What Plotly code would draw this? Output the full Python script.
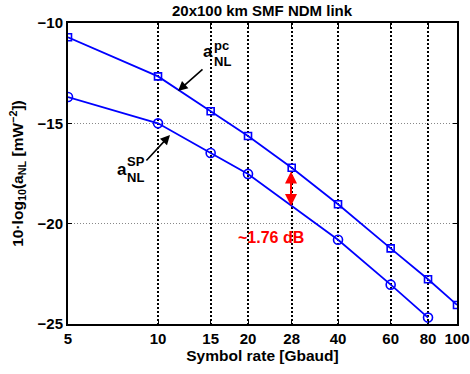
import numpy as np
import plotly.graph_objects as go

# Data
x_pc = [5, 10, 15, 20, 28, 40, 60, 80, 100]
y_pc = [-10.71, -12.66, -14.40, -15.63, -17.21, -19.03, -21.23, -22.77, -24.05]
x_sp = [5, 10, 15, 20, 40, 60, 80]
y_sp = [-13.69, -15.00, -16.48, -17.52, -20.80, -23.04, -24.68]
x_ticks = [5, 10, 15, 20, 28, 40, 60, 80, 100]
y_ticks = [-25, -20, -15, -10]

W, H = 470, 374
L, R, T, B = 68, 13, 23, 50
PW, PH = W - L - R, H - T - B

def px(xp):
    return (xp - L) / PW

def py(yp):
    return (H - B - yp) / PH

FONT = "Liberation Sans, Arial, sans-serif"
BLUE = "#0000ff"

fig = go.Figure()
fig.add_trace(go.Scatter(x=x_pc, y=y_pc, mode="lines+markers",
                         line=dict(color=BLUE, width=1.8),
                         marker=dict(symbol="square-open", size=7, color=BLUE, line=dict(width=1.6, color=BLUE)),
                         showlegend=False))
fig.add_trace(go.Scatter(x=x_sp, y=y_sp, mode="lines+markers",
                         line=dict(color=BLUE, width=1.8),
                         marker=dict(symbol="circle-open", size=9, color=BLUE, line=dict(width=1.6, color=BLUE)),
                         showlegend=False))

ann = []
def txt(x, y, s, size, color="black"):
    ann.append(dict(xref="paper", yref="paper", x=px(x), y=py(y), text="<b>" + s + "</b>", showarrow=False,
                    font=dict(family=FONT, size=size, color=color),
                    xanchor="center", yanchor="middle"))

# title
txt((L + W - R) / 2, 10, "20x100 km SMF NDM link", 15)
# a_NL^pc label
txt(208, 52, "a", 17)
txt(221, 46, "pc", 13)
txt(222, 62, "NL", 13)
# a_NL^SP label
txt(122, 169, "a", 17)
txt(136, 161, "SP", 13)
txt(135, 178, "NL", 13)
# dB label
txt(271, 237, "~1.76 dB", 16, "#ff0000")

# black arrows
ann.append(dict(xref="paper", yref="paper", x=px(178), y=py(91), ax=26, ay=-23,
                text="", showarrow=True, arrowhead=2, arrowsize=1.2, arrowwidth=1.6, arrowcolor="black"))
ann.append(dict(xref="paper", yref="paper", x=px(170), y=py(135), ax=-25, ay=27,
                text="", showarrow=True, arrowhead=2, arrowsize=1.2, arrowwidth=1.6, arrowcolor="black"))
# red double arrow
ann.append(dict(xref="paper", yref="paper", x=px(291), y=py(206), ax=0, ay=-36,
                text="", showarrow=True, arrowhead=2, startarrowhead=2, arrowside="end+start",
                arrowsize=1.2, startarrowsize=1.2, arrowwidth=2, arrowcolor="#ff0000"))

fig.update_layout(
    width=W, height=H,
    margin=dict(l=L, r=R, t=T, b=B, autoexpand=False),
    paper_bgcolor="white", plot_bgcolor="white",
    font=dict(family=FONT, size=15, color="black"),
    annotations=ann,
)
fig.update_xaxes(type="log", range=[np.log10(5), np.log10(100)],
                 tickvals=x_ticks, ticktext=["<b>%d</b>" % v for v in x_ticks],
                 showgrid=True, gridcolor="black", griddash="2px,2px", gridwidth=1.5,
                 showline=True, linecolor="black", linewidth=2, mirror="ticks",
                 ticks="inside", ticklen=4, tickcolor="black", automargin=False,
                 tickfont=dict(family=FONT, size=15, color="black"),
                 title=dict(text="<b>Symbol rate [Gbaud]</b>", standoff=3,
                            font=dict(family=FONT, size=15.5, color="black")),
                 zeroline=False)
fig.update_yaxes(range=[-25, -10], tickvals=y_ticks, ticktext=["<b>−%d</b>" % -v for v in y_ticks],
                 showgrid=True, gridcolor="#888888", griddash="1px,2px", gridwidth=1,
                 showline=True, linecolor="black", linewidth=2, mirror="ticks",
                 ticks="inside", ticklen=4, tickcolor="black", automargin=False,
                 tickfont=dict(family=FONT, size=15, color="black"),
                 title=dict(text="<b>10·log<sub>10</sub>(a<sub>NL</sub> [mW<sup>−2</sup>])</b>", standoff=10,
                            font=dict(family=FONT, size=15.5, color="black")),
                 zeroline=False)

fig.write_html("out.html", config={"displayModeBar": False},
               post_script="document.body.style.margin='0';")
